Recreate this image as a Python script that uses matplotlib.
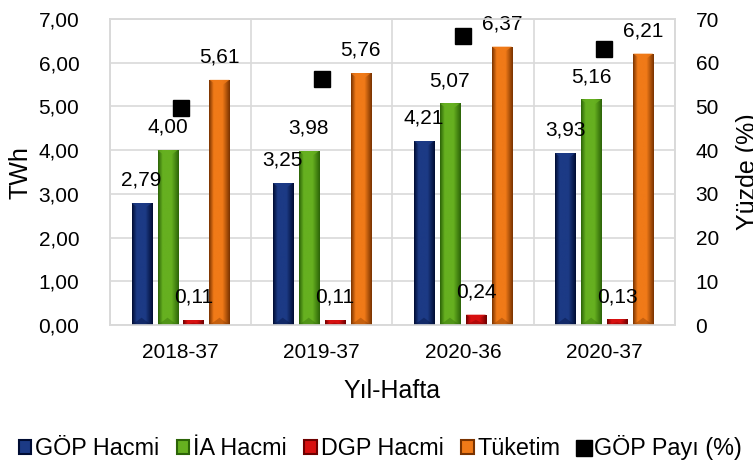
import numpy as np
import matplotlib.pyplot as plt
from matplotlib.patches import Patch, Polygon
from matplotlib.lines import Line2D
from matplotlib.colors import LinearSegmentedColormap

plt.rcParams['font.family'] = ['Liberation Sans', 'DejaVu Sans']

# data
weeks = ['2018-37', '2019-37', '2020-36', '2020-37']
gop_hacmi = [2.79, 3.25, 4.21, 3.93]
ia_hacmi = [4.00, 3.98, 5.07, 5.16]
dgp_hacmi = [0.11, 0.11, 0.24, 0.13]
tuketim = [5.61, 5.76, 6.37, 6.21]
gop_payi = [49.7, 56.3, 66.2, 63.2]

series = [gop_hacmi, ia_hacmi, dgp_hacmi, tuketim]
names = ['GÖP Hacmi', 'İA Hacmi', 'DGP Hacmi', 'Tüketim']
# (dark edge, light middle)
shades = [('#000c33', '#1c3a85'),
          ('#2c6408', '#66b020'),
          ('#6e0000', '#d81010'),
          ('#7a3300', '#f07a18')]

fig = plt.figure(figsize=(7.53, 4.76), dpi=100)
ax = fig.add_axes([0.146, 0.317, 0.750, 0.643])
ax2 = ax.twinx()

x = np.arange(len(weeks))
w = 0.142
step = 0.184

ax.set_xlim(-0.5, 3.5)
ax.set_ylim(0, 7)

def label(v):
    return f'{v:.2f}'.replace('.', ',')

for i, (vals, (dark, light)) in enumerate(zip(series, shades)):
    cmap = LinearSegmentedColormap.from_list('c', [dark, light, light, dark])
    grad = np.linspace(0, 1, 64)[None, :]
    grad = np.interp(grad, [0, 0.3, 0.6, 1], [0, 0.45, 0.62, 1])
    pos = x + (i - 1.5) * step
    bars = ax.bar(pos, vals, width=w, color='none', edgecolor='none', zorder=3)
    for b, v in zip(bars, vals):
        x0, x1 = b.get_x(), b.get_x() + b.get_width()
        im = ax.imshow(grad, cmap=cmap, extent=[x0, x1, 0, v], aspect='auto',
                       zorder=3, vmin=0, vmax=1)
        im.set_clip_path(b)
        th = min(0.17, v * 0.5)
        ax.add_patch(Polygon([[x0, v], [x1, v], [(x0 + x1) / 2, v - th]],
                             closed=True, facecolor=light, alpha=0.8,
                             edgecolor='none', zorder=4))
        ax.add_patch(Polygon([[x0, 0], [x1, 0], [(x0 + x1) / 2, th]],
                             closed=True, facecolor=dark, alpha=0.35,
                             edgecolor='none', zorder=4))
        ax.annotate(label(v), (b.get_x() + b.get_width() / 2, v),
                    xytext=(0, 16.5), textcoords='offset points',
                    ha='center', va='center', fontsize=15, zorder=6)

ax.set_xlim(-0.5, 3.5)
ax.set_ylim(0, 7)

ax2.plot(x, gop_payi, linestyle='none', marker='s', markersize=12,
         color='black', zorder=5)
ax2.set_ylim(0, 70)
ax2.set_yticks(np.arange(0, 71, 10))

ax.set_yticks(np.arange(0, 7.01, 1))
ax.set_yticklabels([label(v) for v in np.arange(0, 7.01, 1)])
ax.set_xticks(x)
ax.set_xticklabels(weeks)
ax.set_xticks(np.arange(-0.5, 3.6, 1), minor=True)
ax.grid(True, axis='y', color='#d9d9d9', linewidth=1.2, zorder=0)
ax.grid(True, axis='x', which='minor', color='#d9d9d9', linewidth=1.2, zorder=0)
ax.grid(False, axis='x', which='major')
ax.set_axisbelow(True)

for a in (ax, ax2):
    for s in a.spines.values():
        s.set_color('#d9d9d9')
        s.set_linewidth(1.2)
    a.tick_params(length=0, labelsize=15, colors='black')
ax.tick_params(axis='x', which='both', length=0, labelsize=15, pad=13)
ax.tick_params(axis='y', pad=22)
ax2.tick_params(axis='y', pad=15)

ax.set_ylabel('TWh', fontsize=18, labelpad=4)
ax2.set_ylabel('Yüzde (%)', fontsize=18, labelpad=12)
ax.set_xlabel('Yıl-Hafta', fontsize=18, labelpad=12)

handles = [Patch(facecolor=l, edgecolor=d, linewidth=1.5) for d, l in shades]
handles.append(Line2D([], [], linestyle='none', marker='s', markersize=11,
                      color='black'))
fig.legend(handles, names + ['GÖP Payı (%)'], loc='center',
           bbox_to_anchor=(0.505, 0.059), ncol=5, frameon=False, fontsize=16.8,
           handlelength=0.55, handleheight=0.55, handletextpad=0.15,
           columnspacing=0.75)

fig.savefig('out.png', dpi=100)
